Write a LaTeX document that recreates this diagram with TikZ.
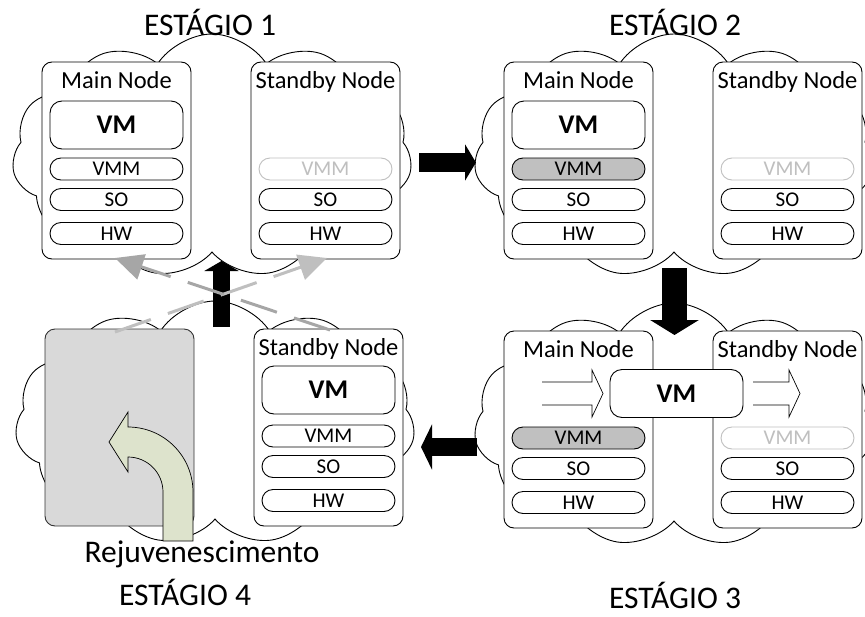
\documentclass[tikz,border=0pt]{standalone}
\usepackage{fontspec}
\setmainfont{Carlito}
\usepackage{tikz}
\usetikzlibrary{shapes.symbols,arrows.meta}
\definecolor{offgray}{HTML}{BFBFBF}
\definecolor{busygray}{HTML}{C0C0C0}
\definecolor{downgray}{HTML}{D9D9D9}
\definecolor{rejgreen}{HTML}{DDE3CC}
\definecolor{dashdark}{HTML}{A6A6A6}

\begin{document}
\begin{tikzpicture}[x=1pt, y=-1pt, line width=0.9pt]
    \tikzstyle{cloudbg} = [cloud, cloud puffs=11, cloud puff arc=115, draw, fill=white, minimum width=400pt, minimum height=244pt, inner sep=0pt]
    \tikzstyle{nodebox} = [draw, fill=white, rounded corners=10pt, minimum width=149pt, minimum height=197pt]
    \tikzstyle{vmbox} = [draw, fill=white, rounded corners=12pt, minimum width=133pt, minimum height=48pt, font=\fontsize{27}{29}\selectfont\bfseries]
    \tikzstyle{layer} = [draw, fill=white, rounded corners=11pt, minimum width=133pt, minimum height=22pt, inner sep=0pt, font=\fontsize{21}{22}\selectfont]
    \tikzstyle{off} = [draw=offgray, text=offgray]
    \tikzstyle{busy} = [fill=busygray]
    \tikzstyle{nodelabel} = [anchor=base, inner sep=0pt, font=\fontsize{24.5}{26}\selectfont]
    \tikzstyle{stagelabel} = [anchor=base, inner sep=0pt, font=\fontsize{31.5}{34}\selectfont]
    \tikzstyle{blockarrow} = [black, line cap=butt]
    \tikzstyle{hollow} = [line width=0.7pt, line join=miter]
    \useasboundingbox (0,0) rectangle (865,616);

    % ESTAGIO 1
    \begin{scope}
        \node[cloudbg] (c1) at (212,156) {};
        \node[nodebox] (m1) at (116.5,160.5) {};
        \node[nodelabel] (m1t) at (116.5,88) {Main Node};
        \node[vmbox] (m1vm) at (116.5,125) {VM};
        \node[nodebox] (s1) at (325.5,160.5) {};
        \node[nodelabel] (s1t) at (325.5,88) {Standby Node};
        \node[layer] (m1vmm) at (116.5,169) {VMM};
        \node[layer, off] (s1vmm) at (325.5,169) {VMM};
        \foreach \t/\y in {SO/199.5, HW/233.5} {
            \node[layer] (m1\t) at (116.5,\y) {\t};
            \node[layer] (s1\t) at (325.5,\y) {\t};
        }
        \node[stagelabel] (e1) at (210,35) {ESTÁGIO 1};
    \end{scope}

    % ESTAGIO 2
    \begin{scope}[shift={(462,0)}]
        \node[cloudbg] (c2) at (212,156) {};
        \node[nodebox] (m2) at (116.5,160.5) {};
        \node[nodelabel] (m2t) at (116.5,88) {Main Node};
        \node[vmbox] (m2vm) at (116.5,125) {VM};
        \node[nodebox] (s2) at (325.5,160.5) {};
        \node[nodelabel] (s2t) at (325.5,88) {Standby Node};
        \node[layer, busy] (m2vmm) at (116.5,169) {VMM};
        \node[layer, off] (s2vmm) at (325.5,169) {VMM};
        \foreach \t/\y in {SO/199.5, HW/233.5} {
            \node[layer] (m2\t) at (116.5,\y) {\t};
            \node[layer] (s2\t) at (325.5,\y) {\t};
        }
        \node[stagelabel] (e2) at (213,35) {ESTÁGIO 2};
    \end{scope}

    % ESTAGIO 3
    \begin{scope}[shift={(462,269)}]
        \node[cloudbg] (c3) at (212,156) {};
        \node[nodebox] (m3) at (116.5,160.5) {};
        \node[nodelabel] (m3t) at (116.5,88) {Main Node};
        \node[nodebox] (s3) at (325.5,160.5) {};
        \node[nodelabel] (s3t) at (325.5,88) {Standby Node};
        \node[layer, busy] (m3vmm) at (116.5,169) {VMM};
        \node[layer, off] (s3vmm) at (325.5,169) {VMM};
        \foreach \t/\y in {SO/199.5, HW/233.5} {
            \node[layer] (m3\t) at (116.5,\y) {\t};
            \node[layer] (s3\t) at (325.5,\y) {\t};
        }
        \draw[hollow] (80,113) -- (130,113) -- (130,101) -- (141,124.5) -- (130,148) -- (130,136) -- (80,136);
        \draw[hollow] (291,113) -- (327,113) -- (327,101) -- (338,124.5) -- (327,148) -- (327,136) -- (291,136);
        \node[vmbox] (m3vm) at (214.5,124.5) {VM};
        \node[stagelabel] (e3) at (213,339) {ESTÁGIO 3};
    \end{scope}

    % ESTAGIO 4
    \begin{scope}[shift={(3,267)}]
        \node[cloudbg] (c4) at (212,156) {};
        \node[nodebox, fill=downgray, draw=black!80] (m4) at (116.5,160.5) {};
        \node[nodebox] (s4) at (325.5,160.5) {};
        \node[nodelabel] (s4t) at (325.5,88) {Standby Node};
        \node[vmbox] (s4vm) at (325.5,123) {VM};
        \foreach \t/\y in {VMM/169, SO/199.5, HW/233.5} {
            \node[layer] (s4\t) at (325.5,\y) {\t};
        }
    \end{scope}
    \draw[fill=rejgreen, line width=0.7pt] (163,541) -- (163,492) arc[start angle=0, end angle=-90, radius=35]
        -- (128,472) -- (109,442) -- (128,412) -- (128,427)
        arc[start angle=-90, end angle=0, radius=65] -- (193,541) -- cycle;
    \node[stagelabel] (rej) at (202,562) {Rejuvenescimento};
    \node[stagelabel] (e4) at (185,605) {ESTÁGIO 4};

    % setas entre estagios
    \coordinate (a12) at (419,162.5);
    \coordinate (a21) at (476,162.5);
    \coordinate (a23) at (674.5,268);
    \coordinate (a32) at (674.5,335);
    \coordinate (a34) at (477,447);
    \coordinate (a43) at (421,447);
    \coordinate (a41) at (221.5,327);
    \coordinate (a14) at (221.5,261);
    \draw[blockarrow, line width=19pt, -{Triangle[length=11pt, width=36pt]}] (a12) -- (a21);
    \draw[blockarrow, line width=25pt, -{Triangle[length=15pt, width=48pt]}] (a23) -- (a32);
    \draw[blockarrow, line width=18pt, -{Triangle[length=11pt, width=45pt]}] (a34) -- (a43);
    \draw[blockarrow, line width=17pt, -{Triangle[length=10pt, width=34pt]}] (a41) -- (a14);

    % migracao (tracejado)
    \coordinate (g1) at (115,332);
    \coordinate (g2) at (327,258);
    \coordinate (g3) at (330,330);
    \coordinate (g4) at (115,258);
    \draw[offgray, line width=3pt, dash pattern=on 38pt off 18pt, -{Triangle[length=28pt, width=26pt]}] (g1) -- (g2);
    \draw[dashdark, line width=3pt, dash pattern=on 38pt off 18pt, -{Triangle[length=28pt, width=26pt]}] (g3) -- (g4);
\end{tikzpicture}
\end{document}
